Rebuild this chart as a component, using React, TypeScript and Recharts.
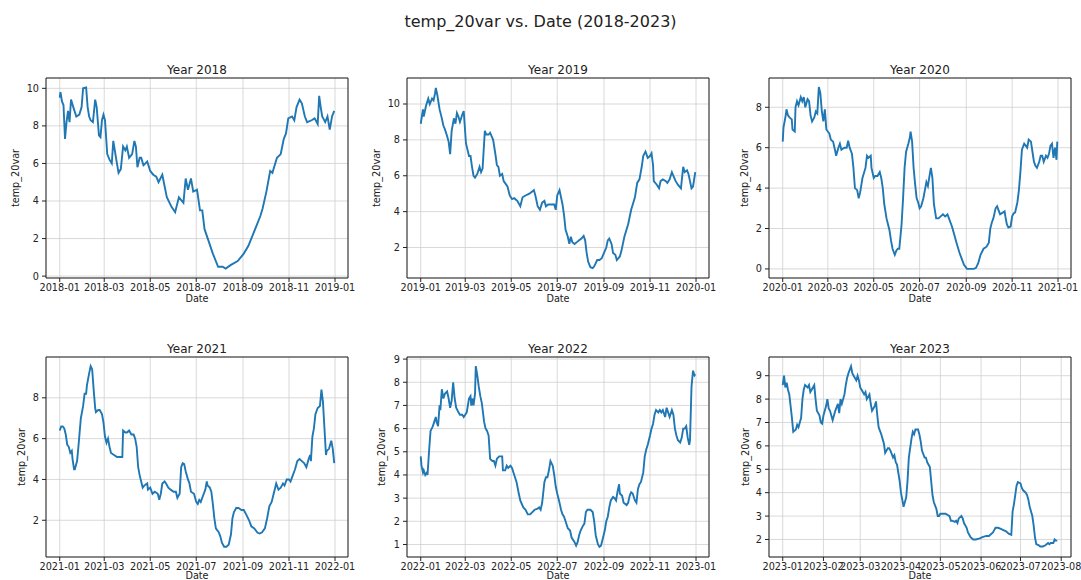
import { CartesianGrid, Line, LineChart, ReferenceArea, XAxis, YAxis } from "recharts";

const FONT = "'DejaVu Sans', sans-serif";
const BLUE = "#1f77b4";
const INK = "#222";

// x positions are day of year (0 = Jan 1)
const monthTicks = [0, 59, 120, 181, 243, 304, 365];
const monthTicksLeap = [0, 60, 121, 182, 244, 305, 366];
const monthTicks2023 = [0, 31, 59, 90, 120, 151, 181, 212];

const labels2018 = ["2018-01", "2018-03", "2018-05", "2018-07", "2018-09", "2018-11", "2019-01"];
const labels2019 = ["2019-01", "2019-03", "2019-05", "2019-07", "2019-09", "2019-11", "2020-01"];
const labels2020 = ["2020-01", "2020-03", "2020-05", "2020-07", "2020-09", "2020-11", "2021-01"];
const labels2021 = ["2021-01", "2021-03", "2021-05", "2021-07", "2021-09", "2021-11", "2022-01"];
const labels2022 = ["2022-01", "2022-03", "2022-05", "2022-07", "2022-09", "2022-11", "2023-01"];
const labels2023 = ["2023-01", "2023-02", "2023-03", "2023-04", "2023-05", "2023-06", "2023-07", "2023-08"];

const days2018 = [0, 1, 3, 5, 7, 9, 11, 13, 15, 18, 22, 26, 29, 31, 35, 37, 39, 41, 44, 47, 49, 52, 54, 56, 58, 60, 63, 66, 69, 71, 75, 78, 81, 84, 87, 89, 92, 96, 99, 101, 103, 106, 108, 111, 116, 120, 124, 128, 131, 136, 139, 142, 148, 153, 158, 164, 167, 170, 174, 177, 182, 186, 189, 192, 198, 203, 210, 216, 220, 227, 236, 244, 250, 256, 262, 266, 269, 274, 279, 282, 288, 293, 297, 300, 303, 308, 311, 314, 318, 321, 325, 328, 334, 338, 342, 344, 346, 348, 352, 355, 358, 361, 364];
const temp2018 = [9.5, 9.8, 9.3, 9.1, 7.3, 8.2, 8.8, 8.2, 9.4, 9.0, 8.5, 8.6, 9.0, 10.0, 10.05, 9.0, 8.5, 8.3, 8.2, 9.4, 9.0, 7.5, 7.4, 8.3, 8.6, 8.3, 6.5, 6.2, 6.0, 7.2, 6.2, 5.5, 5.7, 6.9, 6.7, 6.9, 6.3, 6.5, 7.2, 6.9, 5.8, 6.3, 6.3, 5.9, 6.1, 5.6, 5.4, 5.3, 5.0, 5.4, 4.8, 4.2, 3.7, 3.4, 4.2, 3.9, 5.2, 4.6, 5.2, 4.5, 4.6, 3.5, 3.5, 2.5, 1.8, 1.2, 0.5, 0.5, 0.4, 0.6, 0.8, 1.2, 1.6, 2.2, 2.8, 3.2, 3.6, 4.5, 5.6, 5.5, 6.3, 6.5, 7.3, 7.6, 8.4, 8.5, 8.3, 9.0, 9.4, 9.2, 8.5, 8.2, 8.3, 8.4, 8.1, 9.6, 9.0, 8.5, 8.2, 8.5, 7.8, 8.5, 8.8];

const days2019 = [0, 3, 4, 7, 10, 12, 15, 17, 19, 20, 22, 25, 28, 30, 32, 35, 37, 39, 41, 44, 46, 48, 50, 52, 55, 57, 58, 60, 64, 66, 68, 70, 72, 75, 78, 80, 82, 85, 87, 90, 92, 96, 99, 101, 103, 105, 108, 110, 115, 118, 121, 124, 128, 132, 135, 139, 144, 147, 150, 152, 155, 158, 161, 164, 166, 169, 172, 177, 179, 181, 184, 186, 188, 190, 192, 195, 197, 199, 201, 204, 207, 210, 213, 216, 218, 220, 222, 225, 228, 230, 234, 237, 240, 243, 246, 248, 250, 253, 255, 258, 260, 264, 266, 270, 275, 279, 284, 287, 290, 293, 295, 298, 301, 304, 306, 308, 309, 313, 316, 318, 321, 325, 327, 330, 333, 335, 338, 341, 345, 348, 350, 353, 355, 357, 359, 361, 364];
const temp2019 = [8.9, 9.7, 9.3, 9.9, 10.3, 10.0, 10.3, 10.2, 10.6, 10.9, 10.5, 9.7, 9.2, 8.8, 8.6, 8.2, 7.9, 7.2, 8.5, 9.2, 8.9, 9.5, 9.3, 9.0, 9.4, 9.6, 9.0, 7.8, 7.1, 7.1, 6.5, 6.0, 5.9, 6.1, 6.5, 6.2, 6.4, 8.5, 8.3, 8.3, 8.4, 8.0, 7.2, 6.6, 6.5, 6.0, 6.1, 5.7, 5.4, 4.9, 4.7, 4.75, 4.6, 4.3, 4.8, 4.9, 5.0, 5.1, 5.2, 4.9, 4.3, 4.1, 4.5, 4.6, 4.3, 4.4, 4.4, 4.4, 4.1, 4.9, 5.2, 4.8, 4.4, 3.8, 3.0, 2.6, 2.2, 2.6, 2.3, 2.2, 2.3, 2.4, 2.5, 2.65, 2.4, 1.7, 1.2, 0.9, 0.85, 0.95, 1.3, 1.3, 1.4, 1.7, 2.0, 2.4, 2.5, 2.2, 1.7, 1.6, 1.3, 1.5, 1.8, 2.6, 3.3, 4.1, 4.8, 5.6, 5.8, 6.5, 7.1, 7.35, 7.0, 7.1, 7.25, 6.6, 5.7, 5.5, 5.3, 5.7, 5.8, 5.7, 5.6, 5.8, 6.2, 6.0, 5.7, 5.5, 5.3, 6.5, 6.2, 6.3, 6.1, 5.7, 5.3, 5.4, 6.2];

const days2020 = [0, 1, 4, 5, 7, 9, 12, 13, 16, 17, 19, 21, 24, 26, 28, 30, 33, 35, 37, 39, 42, 44, 46, 48, 50, 52, 54, 56, 58, 62, 64, 67, 70, 71, 74, 76, 78, 82, 85, 87, 89, 92, 94, 96, 99, 101, 103, 106, 110, 112, 114, 117, 118, 121, 123, 126, 129, 131, 133, 135, 138, 140, 142, 144, 146, 149, 151, 153, 155, 158, 160, 162, 164, 167, 169, 170, 172, 174, 176, 178, 180, 182, 184, 187, 189, 191, 193, 196, 197, 199, 201, 204, 207, 210, 213, 216, 219, 221, 225, 228, 231, 235, 238, 241, 245, 249, 254, 257, 260, 263, 267, 271, 274, 276, 278, 280, 283, 285, 287, 289, 293, 295, 296, 298, 300, 303, 305, 307, 309, 312, 314, 316, 318, 321, 323, 325, 327, 330, 332, 334, 336, 338, 341, 343, 345, 347, 350, 352, 354, 356, 358, 360, 362, 364, 365];
const temp2020 = [6.3, 7.0, 7.6, 7.9, 7.6, 7.5, 7.4, 6.9, 6.8, 8.0, 8.3, 8.1, 8.5, 8.3, 8.5, 8.0, 8.4, 8.3, 7.6, 7.3, 7.5, 7.8, 7.7, 9.0, 8.7, 7.8, 7.3, 7.9, 6.9, 6.7, 6.4, 6.3, 5.8, 5.6, 6.0, 6.2, 5.9, 6.0, 6.0, 6.35, 6.0, 5.7, 5.0, 4.0, 3.9, 3.5, 3.8, 4.5, 5.0, 5.6, 5.5, 5.6, 5.0, 4.5, 4.6, 4.6, 4.8, 4.5, 4.0, 3.2, 2.5, 2.2, 1.9, 1.4, 1.0, 0.7, 0.9, 1.0, 1.0, 2.2, 3.5, 5.0, 5.8, 6.2, 6.5, 6.8, 6.3, 5.0, 4.2, 3.5, 3.3, 3.0, 3.1, 3.5, 3.9, 4.3, 4.1, 4.8, 5.0, 4.5, 3.2, 2.5, 2.5, 2.6, 2.7, 2.6, 2.7, 2.5, 2.1, 1.7, 1.3, 0.8, 0.5, 0.2, 0.0, 0.0, 0.0, 0.05, 0.3, 0.7, 1.0, 1.1, 1.3, 2.0, 2.3, 2.5, 3.0, 3.1, 2.9, 2.7, 2.8, 2.85, 2.6, 2.2, 2.05, 2.1, 2.6, 2.75, 2.8, 3.3, 3.9, 4.8, 5.9, 6.2, 6.1, 6.0, 6.4, 6.3, 5.8, 5.3, 5.1, 5.0, 5.3, 5.6, 5.6, 5.3, 5.6, 5.5, 5.7, 6.1, 6.2, 5.5, 6.0, 5.4, 6.3];

const days2021 = [0, 2, 4, 6, 8, 10, 12, 14, 16, 17, 19, 20, 23, 25, 28, 30, 31, 33, 35, 36, 39, 41, 43, 45, 47, 48, 51, 53, 56, 58, 60, 62, 64, 66, 68, 72, 76, 79, 82, 83, 84, 87, 89, 92, 95, 98, 100, 102, 104, 106, 108, 110, 112, 116, 117, 120, 123, 126, 130, 132, 134, 136, 139, 141, 144, 147, 151, 154, 156, 159, 161, 163, 165, 167, 170, 172, 174, 178, 181, 183, 185, 187, 190, 193, 195, 196, 199, 201, 203, 205, 207, 211, 213, 215, 218, 221, 224, 227, 229, 231, 234, 237, 241, 244, 247, 251, 254, 258, 262, 265, 268, 272, 275, 278, 281, 283, 285, 287, 290, 293, 296, 298, 301, 304, 306, 308, 312, 315, 318, 321, 324, 327, 330, 332, 333, 335, 337, 339, 342, 345, 347, 349, 351, 353, 354, 357, 360, 362, 364];
const temp2021 = [6.4, 6.6, 6.6, 6.5, 6.2, 5.7, 5.6, 5.3, 5.4, 5.0, 4.5, 4.5, 4.9, 5.7, 7.0, 7.4, 7.6, 8.2, 8.2, 8.6, 9.2, 9.55, 9.4, 8.4, 7.5, 7.3, 7.4, 7.4, 7.2, 6.8, 6.1, 5.8, 6.0, 5.6, 5.3, 5.2, 5.1, 5.1, 5.1, 5.1, 6.4, 6.3, 6.3, 6.4, 6.2, 6.2, 6.0, 5.6, 4.6, 4.2, 3.9, 3.6, 3.7, 3.8, 3.5, 3.6, 3.3, 3.4, 3.3, 3.0, 3.3, 3.8, 3.9, 3.8, 3.6, 3.5, 3.4, 3.4, 3.1, 3.3, 4.6, 4.8, 4.75, 4.4, 4.0, 3.8, 3.4, 3.3, 2.9, 2.8, 3.0, 2.9, 3.2, 3.5, 3.9, 3.7, 3.6, 3.4, 2.8, 2.1, 1.6, 1.4, 1.2, 0.9, 0.7, 0.7, 0.8, 1.3, 2.1, 2.4, 2.6, 2.6, 2.5, 2.5, 2.3, 2.0, 1.7, 1.6, 1.4, 1.35, 1.4, 1.6, 2.1, 2.7, 2.9, 3.2, 3.5, 3.8, 3.5, 3.6, 3.8, 3.7, 4.0, 4.0, 3.9, 4.1, 4.5, 4.9, 5.0, 4.9, 4.8, 4.6, 5.0, 5.2, 4.9, 6.1, 6.5, 7.2, 7.5, 7.6, 8.4, 7.8, 6.5, 5.2, 5.4, 5.5, 5.9, 5.5, 4.8];

const days2022 = [0, 1, 3, 4, 6, 8, 9, 11, 13, 16, 18, 20, 21, 23, 25, 26, 28, 30, 32, 35, 37, 39, 41, 43, 45, 47, 50, 52, 55, 57, 59, 61, 64, 66, 67, 69, 70, 72, 73, 75, 77, 79, 81, 84, 86, 88, 90, 92, 95, 97, 99, 101, 104, 106, 108, 109, 112, 114, 116, 119, 121, 124, 127, 130, 132, 136, 139, 142, 145, 148, 151, 155, 157, 159, 161, 164, 166, 168, 170, 172, 175, 177, 179, 181, 184, 186, 188, 190, 192, 195, 198, 200, 204, 206, 208, 210, 212, 215, 217, 219, 221, 225, 228, 230, 232, 235, 237, 239, 241, 244, 246, 248, 250, 252, 255, 257, 259, 261, 263, 264, 267, 269, 273, 275, 277, 279, 281, 284, 286, 288, 290, 292, 295, 297, 299, 301, 304, 306, 308, 310, 312, 315, 317, 319, 321, 324, 326, 328, 330, 333, 335, 337, 339, 341, 344, 346, 348, 350, 352, 354, 356, 357, 359, 361, 363, 364];
const temp2022 = [4.8, 4.4, 4.1, 4.2, 4.0, 4.1, 4.0, 5.0, 5.9, 6.1, 6.3, 6.5, 6.3, 6.1, 7.0, 6.8, 7.7, 7.3, 7.5, 7.6, 7.3, 6.9, 7.2, 8.0, 7.3, 6.9, 6.7, 6.6, 6.6, 6.5, 6.6, 6.7, 7.3, 7.4, 7.0, 7.3, 7.0, 7.5, 8.7, 8.3, 7.8, 7.4, 7.1, 6.3, 6.0, 5.9, 5.7, 4.7, 4.6, 4.6, 4.4, 4.7, 4.8, 4.8, 4.8, 4.2, 4.2, 4.4, 4.3, 4.4, 4.3, 4.0, 3.7, 3.2, 2.9, 2.6, 2.5, 2.3, 2.3, 2.4, 2.5, 2.55, 2.6, 2.5, 2.8, 3.7, 3.9, 3.9, 4.2, 4.6, 4.4, 4.0, 3.5, 3.2, 2.8, 2.5, 2.3, 2.2, 2.0, 1.7, 1.6, 1.3, 1.1, 0.95, 1.1, 1.4, 1.6, 1.8, 1.9, 2.4, 2.5, 2.5, 2.4, 2.0, 1.4, 1.0, 0.9, 0.95, 1.2, 1.6, 2.0, 2.2, 2.6, 2.9, 3.05, 3.0, 2.9, 3.3, 3.6, 3.2, 3.1, 2.8, 2.7, 2.8, 3.1, 3.25, 3.2, 2.9, 2.8, 3.4, 3.6, 3.7, 4.1, 4.8, 5.1, 5.3, 5.7, 6.0, 6.2, 6.6, 6.8, 6.7, 6.8, 6.7, 6.8, 6.5, 6.9, 6.7, 6.5, 6.8, 6.6, 6.0, 5.7, 5.5, 5.4, 5.6, 6.0, 6.0, 6.1, 5.6, 5.3, 5.5, 7.8, 8.5, 8.3, 8.35];

const days2023 = [0, 1, 2, 3, 4, 5, 6, 7, 8, 10, 11, 12, 14, 15, 16, 17, 19, 20, 21, 22, 24, 25, 26, 28, 29, 30, 31, 33, 34, 35, 36, 38, 39, 40, 42, 43, 44, 45, 47, 48, 49, 50, 52, 53, 54, 56, 57, 58, 59, 61, 62, 63, 64, 66, 67, 68, 70, 71, 72, 73, 75, 76, 77, 78, 80, 81, 82, 84, 85, 86, 87, 89, 90, 91, 92, 94, 95, 96, 98, 99, 100, 101, 103, 104, 105, 106, 108, 109, 110, 112, 113, 114, 115, 117, 118, 119, 120, 122, 124, 127, 128, 129, 131, 132, 133, 134, 136, 137, 138, 140, 141, 142, 143, 145, 147, 150, 152, 155, 157, 160, 161, 162, 164, 166, 168, 170, 172, 174, 175, 176, 177, 178, 179, 181, 182, 183, 185, 186, 187, 188, 190, 191, 192, 193, 195, 196, 198, 200, 202, 203, 204, 206, 207, 208, 209];
const temp2023 = [8.6, 9.0, 8.5, 8.7, 8.4, 8.2, 7.7, 7.2, 6.6, 6.7, 6.9, 6.8, 7.2, 8.0, 8.4, 8.6, 8.5, 8.6, 8.3, 8.4, 8.6, 8.0, 7.5, 7.3, 7.0, 6.95, 7.3, 7.7, 8.0, 7.6, 7.5, 7.1, 7.3, 7.5, 7.8, 7.4, 8.0, 7.8, 8.2, 8.6, 8.9, 9.1, 9.4, 9.1, 9.0, 8.8, 9.0, 8.8, 8.5, 8.3, 8.2, 8.3, 8.0, 8.2, 7.8, 7.5, 7.7, 7.9, 7.3, 6.8, 6.5, 6.3, 6.1, 5.7, 5.9, 5.9, 5.8, 5.5, 5.6, 5.3, 5.2, 4.5, 4.0, 3.7, 3.4, 3.8, 4.5, 5.5, 6.3, 6.6, 6.5, 6.7, 6.7, 6.5, 6.2, 5.8, 5.5, 5.5, 5.3, 5.1, 4.5, 3.9, 3.6, 3.3, 3.0, 3.0, 3.1, 3.1, 3.1, 3.0, 2.8, 2.8, 2.75, 2.8, 2.7, 2.9, 3.0, 2.9, 2.7, 2.5, 2.3, 2.2, 2.1, 2.0, 2.0, 2.05, 2.1, 2.15, 2.15, 2.3, 2.4, 2.5, 2.5, 2.45, 2.4, 2.35, 2.25, 2.2, 3.2, 3.5, 3.9, 4.3, 4.45, 4.4, 4.2, 4.1, 4.0, 3.9, 3.7, 3.4, 3.0, 2.6, 2.1, 1.8, 1.75, 1.7, 1.7, 1.75, 1.85, 1.8, 1.85, 1.85, 2.0, 1.95, 1.95];

const PLOT_W = 302;
const PLOT_H = 200;
const Y_W = 45;
const PAD_T = 5;
const PAD_R = 12;
const X_H = 30;
const TEXT = 9.7;

type PanelProps = {
  title: string;
  left: number;
  top: number;
  days: number[];
  values: number[];
  xTicks: number[];
  xLabels: string[];
  xDomain: [number, number];
  yTicks: number[];
  yDomain: [number, number];
  yLabelGap: number;
  dateGap: number;
};

function Panel(p: PanelProps) {
  const data = p.days.map((day, i) => ({ day, value: p.values[i] }));
  const tickStyle = { fontSize: TEXT, fill: INK, fontFamily: FONT };
  return (
    <>
      <div
        style={{
          position: "absolute",
          left: p.left,
          top: p.top - 15,
          width: PLOT_W,
          textAlign: "center",
          fontSize: 12,
          lineHeight: "14px",
        }}
      >
        {p.title}
      </div>
      <div style={{ position: "absolute", left: p.left - Y_W, top: p.top - PAD_T }}>
        <LineChart
          width={Y_W + PLOT_W + PAD_R}
          height={PAD_T + PLOT_H + X_H}
          data={data}
          margin={{ top: PAD_T, right: PAD_R, left: 0, bottom: 0 }}
        >
          <CartesianGrid stroke="#cfcfcf" strokeWidth={0.8} />
          <XAxis
            type="number"
            dataKey="day"
            domain={p.xDomain}
            ticks={p.xTicks}
            interval={0}
            allowDataOverflow
            height={X_H}
            axisLine={false}
            tickSize={4}
            tickMargin={2}
            tickLine={{ stroke: INK }}
            tick={tickStyle}
            tickFormatter={(v: number) => p.xLabels[p.xTicks.indexOf(v)] ?? ""}
            label={{ value: "Date", position: "insideTop", offset: p.dateGap, ...tickStyle }}
          />
          <YAxis
            type="number"
            domain={p.yDomain}
            ticks={p.yTicks}
            interval={0}
            allowDataOverflow
            width={Y_W}
            axisLine={false}
            tickSize={4}
            tickMargin={3}
            tickLine={{ stroke: INK }}
            tick={tickStyle}
            label={{
              value: "temp_20var",
              angle: -90,
              position: "insideLeft",
              offset: Y_W - p.yLabelGap,
              style: { textAnchor: "middle" },
              ...tickStyle,
            }}
          />
          <ReferenceArea
            x1={p.xDomain[0]}
            x2={p.xDomain[1]}
            y1={p.yDomain[0]}
            y2={p.yDomain[1]}
            fill="none"
            stroke={INK}
            strokeWidth={1}
            ifOverflow="visible"
          />
          <Line
            type="linear"
            dataKey="value"
            stroke={BLUE}
            strokeWidth={1.9}
            dot={false}
            isAnimationActive={false}
          />
        </LineChart>
      </div>
    </>
  );
}

const YEAR_DOMAIN: [number, number] = [-18.2, 382.2];

export default function App() {
  return (
    <div
      style={{
        position: "absolute",
        left: 0,
        top: 0,
        width: 1081,
        height: 580,
        overflow: "hidden",
        background: "#fff",
        fontFamily: FONT,
        color: INK,
      }}
    >
      <div
        style={{
          position: "absolute",
          left: 0,
          top: 12,
          width: 1081,
          textAlign: "center",
          fontSize: 16,
          lineHeight: "20px",
        }}
      >
        temp_20var vs. Date (2018-2023)
      </div>
      <Panel title="Year 2018" left={46} top={78} days={days2018} values={temp2018}
        xTicks={monthTicks} xLabels={labels2018} xDomain={YEAR_DOMAIN}
        yTicks={[0, 2, 4, 6, 8, 10]} yDomain={[-0.1, 10.55]} yLabelGap={30} dateGap={17.5} />
      <Panel title="Year 2019" left={407} top={78} days={days2019} values={temp2019}
        xTicks={monthTicks} xLabels={labels2019} xDomain={YEAR_DOMAIN}
        yTicks={[2, 4, 6, 8, 10]} yDomain={[0.3, 11.45]} yLabelGap={30} dateGap={17.5} />
      <Panel title="Year 2020" left={769} top={78} days={days2020} values={temp2020}
        xTicks={monthTicksLeap} xLabels={labels2020} xDomain={[-18.25, 383.25]}
        yTicks={[0, 2, 4, 6, 8]} yDomain={[-0.45, 9.45]} yLabelGap={24} dateGap={17.5} />
      <Panel title="Year 2021" left={46} top={357} days={days2021} values={temp2021}
        xTicks={monthTicks} xLabels={labels2021} xDomain={YEAR_DOMAIN}
        yTicks={[2, 4, 6, 8]} yDomain={[0.2, 10.0]} yLabelGap={24} dateGap={15.5} />
      <Panel title="Year 2022" left={407} top={357} days={days2022} values={temp2022}
        xTicks={monthTicks} xLabels={labels2022} xDomain={YEAR_DOMAIN}
        yTicks={[1, 2, 3, 4, 5, 6, 7, 8, 9]} yDomain={[0.46, 9.09]} yLabelGap={25} dateGap={15.5} />
      <Panel title="Year 2023" left={769} top={357} days={days2023} values={temp2023}
        xTicks={monthTicks2023} xLabels={labels2023} xDomain={[-10.45, 219.45]}
        yTicks={[2, 3, 4, 5, 6, 7, 8, 9]} yDomain={[1.25, 9.8]} yLabelGap={23} dateGap={15.5} />
    </div>
  );
}
